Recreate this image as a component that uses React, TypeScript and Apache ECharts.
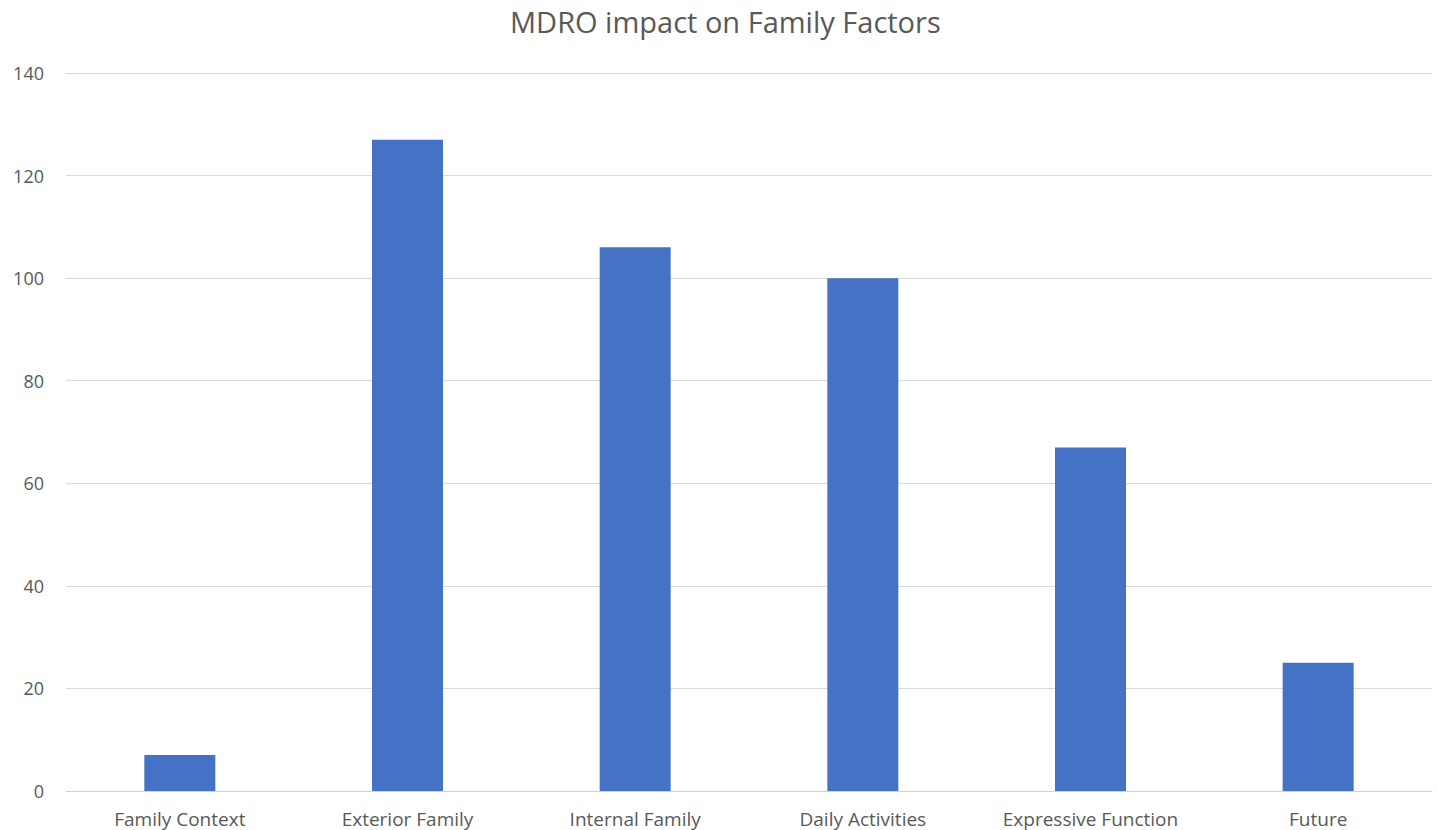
import React, { useEffect, useRef } from "react";
import * as echarts from "echarts";

const categories = [
  "Family Context",
  "Exterior Family",
  "Internal Family",
  "Daily Activities",
  "Expressive Function",
  "Future",
];
const values = [7, 127, 106, 100, 67, 25];
const yTicks = { min: 0, max: 140, interval: 20 };

export default function App() {
  const ref = useRef<HTMLDivElement>(null);
  useEffect(() => {
    if (!ref.current) return;
    const chart = echarts.init(ref.current, undefined, { renderer: "svg" });
    chart.setOption({
      animation: false,
      backgroundColor: "#ffffff",
      title: {
        text: "MDRO impact on Family Factors",
        left: 505,
        top: 2,
        textStyle: {
          fontFamily: "Open Sans",
          fontSize: 29,
          fontWeight: "normal",
          color: "#595959",
        },
      },
      grid: { left: 66, right: 6, top: 73, bottom: 39, containLabel: false },
      xAxis: {
        type: "category",
        data: categories,
        axisLine: { show: true, lineStyle: { color: "#d0d0d0", width: 1 } },
        axisTick: { show: false },
        axisLabel: {
          fontFamily: "Open Sans",
          fontSize: 19,
          color: "#595959",
          margin: 18,
          interval: 0,
        },
      },
      yAxis: {
        type: "value",
        min: yTicks.min,
        max: yTicks.max,
        interval: yTicks.interval,
        axisLine: { show: false },
        axisTick: { show: false },
        splitLine: { lineStyle: { color: "#d9d9d9", width: 1 } },
        axisLabel: {
          fontFamily: "Open Sans",
          fontSize: 18,
          color: "#595959",
          margin: 22,
        },
      },
      series: [
        {
          type: "bar",
          data: values,
          barWidth: 71,
          itemStyle: { color: "#4472C4" },
        },
      ],
    });
    return () => chart.dispose();
  }, []);
  return (
    <div
      ref={ref}
      style={{ position: "absolute", left: 0, top: 0, width: 1438, height: 830 }}
    />
  );
}
